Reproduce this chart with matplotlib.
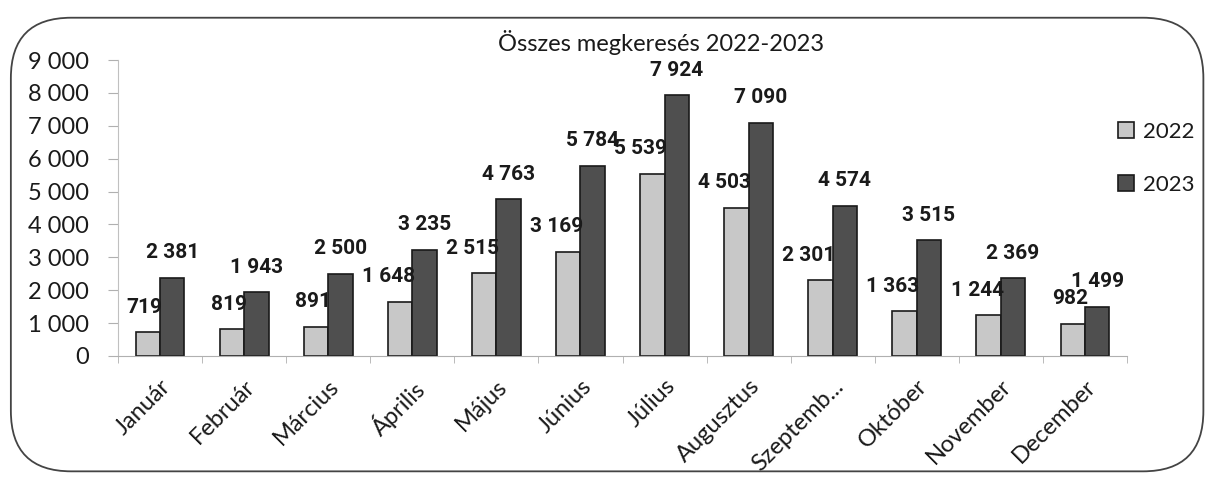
import matplotlib.pyplot as plt
import numpy as np
from matplotlib.patches import FancyBboxPatch, Patch

# data
honapok = ["Január", "Február", "Március", "Április", "Május", "Június",
           "Július", "Augusztus", "Szeptemb...", "Október", "November", "December"]
ev2022 = [719, 819, 891, 1648, 2515, 3169, 5539, 4503, 2301, 1363, 1244, 982]
ev2023 = [2381, 1943, 2500, 3235, 4763, 5784, 7924, 7090, 4574, 3515, 2369, 1499]
evek = ["2022", "2023"]
yticks = [0, 1000, 2000, 3000, 4000, 5000, 6000, 7000, 8000, 9000]

plt.rcParams['font.family'] = ['Lato', 'DejaVu Sans']

def fmt(v):
    return f"{v:,}".replace(",", " ")

fig = plt.figure(figsize=(12.07, 4.79), dpi=100)
ax = fig.add_axes([0.0978, 0.2568, 0.8359, 0.6179])

# rounded frame around the whole chart
frame = FancyBboxPatch((0.009, 0.016), 0.988, 0.947, boxstyle="round,pad=0,rounding_size=0.05",
                       transform=fig.transFigure, fill=False, edgecolor="#444444", linewidth=1.3,
                       mutation_aspect=1207 / 479)
fig.patches.append(frame)

c22 = "#c8c8c8"
c23 = "#4f4f4f"
w = 0.29
x = np.arange(len(honapok))
ax.bar(x - w / 2, ev2022, w, color=c22, edgecolor="#1a1a1a", linewidth=1.2)
ax.bar(x + w / 2, ev2023, w, color=c23, edgecolor="#1a1a1a", linewidth=1.2)

lbl = dict(fontsize=15, fontweight="bold", family=["Roboto", "DejaVu Sans"], color="#1a1a1a")
for i in range(len(honapok)):
    ax.annotate(fmt(ev2022[i]), xy=(x[i], ev2022[i]), xytext=(2, 18), textcoords="offset points",
                ha="right", va="center", **lbl)
    ax.annotate(fmt(ev2023[i]), xy=(x[i] + w / 2, ev2023[i]), xytext=(0, 18), textcoords="offset points",
                ha="center", va="center", **lbl)

ax.set_xlim(-0.5, len(honapok) - 0.5)
ax.set_ylim(0, 9000)
ax.set_yticks(yticks)
ax.set_yticklabels([fmt(v) for v in yticks], fontsize=17, color="#1a1a1a")
ax.set_xticks(x)
ax.set_xticklabels(honapok, rotation=45, ha="right", rotation_mode="anchor", fontsize=17, color="#1a1a1a")
ax.set_xticks(np.arange(-0.5, len(honapok), 1), minor=True)
ax.tick_params(axis="x", which="major", length=0, pad=14)
ax.tick_params(axis="x", which="minor", length=5, color="#b0b0b0")
ax.tick_params(axis="y", length=7, color="#b0b0b0", pad=14)

for s in ["top", "right"]:
    ax.spines[s].set_visible(False)
ax.spines["left"].set_color("#c0c0c0")
ax.spines["bottom"].set_color("#b0b0b0")

fig.text(0.548, 0.912, "Összes megkeresés 2022-2023", ha="center", va="center", fontsize=17, color="#1a1a1a")

handles = [Patch(facecolor=c22, edgecolor="#1a1a1a", linewidth=1.2),
           Patch(facecolor=c23, edgecolor="#1a1a1a", linewidth=1.2)]
leg = fig.legend(handles, evek, loc="upper left", bbox_to_anchor=(0.910, 0.788), frameon=False,
                 fontsize=16, handlelength=0.7, handleheight=0.7, handletextpad=0.4, labelspacing=1.5)
for t in leg.get_texts():
    t.set_color("#1a1a1a")

fig.savefig("out.png", dpi=100)
